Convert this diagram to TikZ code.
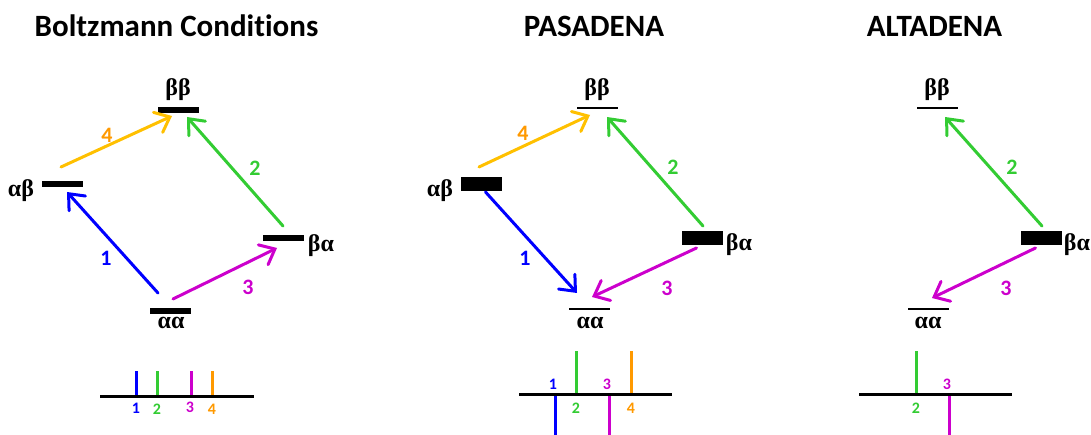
\documentclass[tikz,border=0pt]{standalone}
\usepackage{fontspec}
\setmainfont[Ligatures=NoCommon]{Carlito}
\newfontfamily\greekfont{Liberation Serif}
\usetikzlibrary{arrows.meta,scopes}

\definecolor{specblue}{RGB}{0,0,255}
\definecolor{specgreen}{RGB}{51,204,51}
\definecolor{specmagenta}{RGB}{204,0,204}
\definecolor{specgold}{RGB}{255,192,0}
\definecolor{specorange}{RGB}{255,153,0}

\begin{document}
\begin{tikzpicture}[
    x=1pt,y=-1pt,
    title/.style={font=\fontsize{31}{33}\selectfont\bfseries,anchor=base,inner sep=0pt},
    level/.style={fill=black,minimum width=41pt,minimum height=6pt,inner sep=0pt},
    thinlevel/.style={level,minimum height=2pt},
    thicklevel/.style={level,minimum height=14pt},
    state/.style={font=\greekfont\bfseries\fontsize{24}{26}\selectfont,inner sep=0pt},
    trans/.style={line width=3pt,line cap=round,-{Straight Barb[length=13pt,width=22pt,line cap=round]}},
    num/.style={font=\fontsize{22}{24}\selectfont\bfseries,inner sep=0pt},
    peak/.style={line width=3pt},
    peaknum/.style={font=\fontsize{16}{18}\selectfont\bfseries,inner sep=0pt},
]
    \useasboundingbox (0,0) rectangle (1091,435);

    % thermal populations
    \node[title] (tb) at (176.5,37) {Boltzmann Conditions};
    \node[level] (b-bb) at (178.5,110) {};
    \node[level] (b-ab) at (62,184) {};
    \node[level] (b-ba) at (283,238.5) {};
    \node[level] (b-aa) at (170,311) {};
    \node[state] (b-bbl) at (178,90) {ββ};
    \node[state] (b-abl) at (21,191) {αβ};
    \node[state] (b-bal) at (321,246) {βα};
    \node[state] (b-aal) at (171,323) {αα};
    \draw[trans,specgold] ([shift={(-1,-17)}]b-ab.center) -- ([shift={(-6.5,6)}]b-bb.center);
    \draw[trans,specgreen] ([shift={(0,-12.5)}]b-ba.center) -- ([shift={(8.5,7)}]b-bb.center);
    \draw[trans,specblue] ([shift={(-12,-18)}]b-aa.center) -- ([shift={(5,8)}]b-ab.center);
    \draw[trans,specmagenta] ([shift={(3,-12)}]b-aa.center) -- ([shift={(-6,9.5)}]b-ba.center);
    \node[num,specorange] (b-n4) at (107,135) {4};
    \node[num,specgreen] (b-n2) at (255,168) {2};
    \node[num,specblue] (b-n1) at (106,258) {1};
    \node[num,specmagenta] (b-n3) at (248,287) {3};
    % absorptive lines
    \draw[peak,specblue] (136,371) -- (136,396);
    \draw[peak,specgreen] (157,371) -- (157,396);
    \draw[peak,specmagenta] (191,371) -- (191,396);
    \draw[peak,specorange] (212,371) -- (212,396);
    \draw[peak,black] (100,396) -- (254,396);
    \node[peaknum,specblue] at (136,408) {1};
    \node[peaknum,specgreen] at (157,409) {2};
    \node[peaknum,specmagenta] at (190,407) {3};
    \node[peaknum,specorange] at (212,409) {4};

    % hydrogenation inside the field
    {[xshift=419pt]
    \node[title] (tp) at (175,37) {PASADENA};
    \node[thinlevel] (p-bb) at (178,108) {};
    \node[thicklevel] (p-ab) at (62.5,184) {};
    \node[thicklevel] (p-ba) at (283.5,238.5) {};
    \node[thinlevel] (p-aa) at (170,309) {};
    \node[state] (p-bbl) at (178,90) {ββ};
    \node[state] (p-abl) at (21,191) {αβ};
    \node[state] (p-bal) at (320,245) {βα};
    \node[state] (p-aal) at (171,323) {αα};
    \draw[trans,specgold] ([shift={(-2.5,-17)}]p-ab.center) -- ([shift={(-7,7)}]p-bb.center);
    \draw[trans,specgreen] ([shift={(0.5,-12.5)}]p-ba.center) -- ([shift={(10,9)}]p-bb.center);
    \draw[trans,specblue] ([shift={(4,8)}]p-ab.center) -- ([shift={(-12,-16)}]p-aa.center);
    \draw[trans,specmagenta] ([shift={(-6,9.5)}]p-ba.center) -- ([shift={(3,-12)}]p-aa.center);
    \node[num,specorange] (p-n4) at (104,133) {4};
    \node[num,specgreen] (p-n2) at (254,167) {2};
    \node[num,specblue] (p-n1) at (106,258) {1};
    \node[num,specmagenta] (p-n3) at (248,288) {3};
    % antiphase lines
    \draw[peak,specblue] (136,394) -- (136,437);
    \draw[peak,specgreen] (157,351) -- (157,394);
    \draw[peak,specmagenta] (190,394) -- (190,437);
    \draw[peak,specorange] (212,351) -- (212,394);
    \draw[peak,black] (100,394) -- (253,394);
    \node[peaknum,specblue] at (134,384) {1};
    \node[peaknum,specgreen] at (157,408) {2};
    \node[peaknum,specmagenta] at (188,384) {3};
    \node[peaknum,specorange] at (212,408) {4};
    }

    % hydrogenation outside the field
    {[xshift=759pt]
    \node[title] (ta) at (175.5,37) {ALTADENA};
    \node[thinlevel] (a-bb) at (178,108) {};
    \node[thicklevel] (a-ba) at (282.5,238.5) {};
    \node[thinlevel] (a-aa) at (169,309) {};
    \node[state] (a-bbl) at (178,90) {ββ};
    \node[state] (a-bal) at (318,245) {βα};
    \node[state] (a-aal) at (169,323) {αα};
    \draw[trans,specgreen] ([shift={(0.5,-12.5)}]a-ba.center) -- ([shift={(8,9)}]a-bb.center);
    \draw[trans,specmagenta] ([shift={(-6,9.5)}]a-ba.center) -- ([shift={(4,-11)}]a-aa.center);
    \node[num,specgreen] (a-n2) at (253,167) {2};
    \node[num,specmagenta] (a-n3) at (247,288) {3};
    \draw[peak,specgreen] (157,351) -- (157,394);
    \draw[peak,specmagenta] (190,394) -- (190,437);
    \draw[peak,black] (100,394) -- (253,394);
    \node[peaknum,specmagenta] at (188,384) {3};
    \node[peaknum,specgreen] at (157,408) {2};
    }
\end{tikzpicture}
\end{document}
